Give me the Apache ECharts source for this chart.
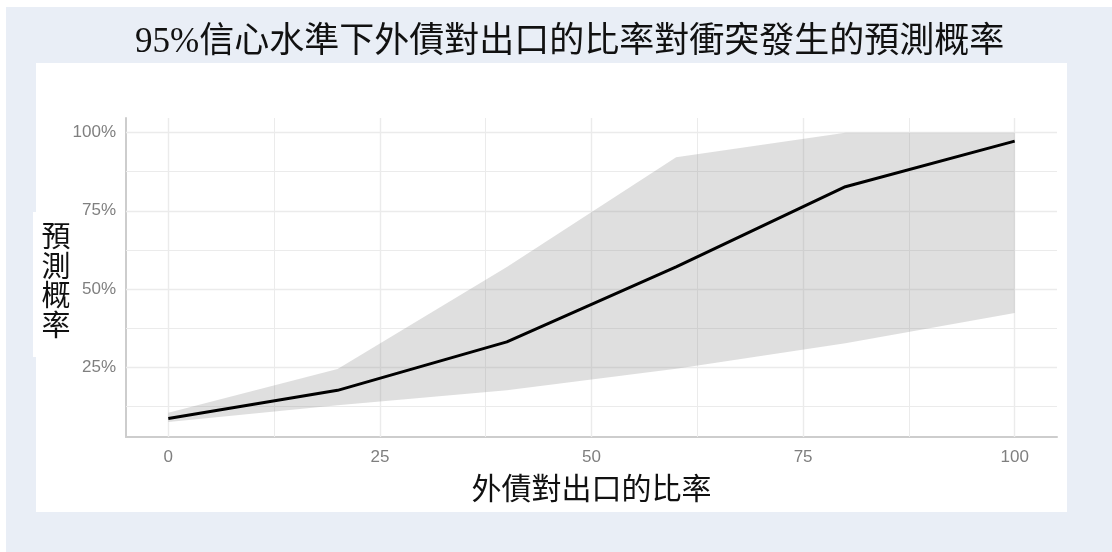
<!DOCTYPE html>
<html>
<head>
<meta charset="utf-8">
<script src="https://cdn.jsdelivr.net/npm/echarts@6/dist/echarts.min.js"></script>
<style>
  html, body { margin: 0; padding: 0; background: #ffffff; }
  #chart { width: 1112px; height: 552px; }
</style>
</head>
<body>
<div id="chart"></div>
<script>
// Ratio of external debt to exports (%)
const debtRatio = [0, 20, 40, 60, 80, 100];
// Predicted probability of conflict (%)
const predicted = [8.5, 17.5, 33, 57, 82.7, 97.3];
// 95% confidence band (%)
const lowerBound = [7.4, 12.7, 17.5, 24.4, 32.6, 42.3];
const upperBound = [10.3, 24.3, 57, 92.1, 100, 100];

// Axis tick labels and grid positions
const xTicks = [0, 25, 50, 75, 100];
const yTicks = [25, 50, 75, 100];
const xGrid = [0, 12.5, 25, 37.5, 50, 62.5, 75, 87.5, 100];
const yGrid = [12.5, 25, 37.5, 50, 62.5, 75, 87.5, 100];

const titleText = '95%信心水準下外債對出口的比率對衝突發生的預測概率';
const xName = '外債對出口的比率';
const yName = '預測概率';

const chart = echarts.init(document.getElementById('chart'), null, { renderer: 'canvas' });

const tickFont = '"Liberation Sans Narrow", "Liberation Sans", Arial, sans-serif';
const cjkFont = '"Liberation Serif", "Noto Sans CJK TC", serif';

const gridLineData = []
  .concat(xGrid.map(v => ({ xAxis: v, lineStyle: { width: Number.isInteger(v / 25) ? 1.4 : 1 } })))
  .concat(yGrid.map(v => ({ yAxis: v, lineStyle: { width: Number.isInteger(v / 25) ? 1.4 : 1 } })));

const option = {
  backgroundColor: '#ffffff',
  animation: false,
  title: {
    text: titleText,
    left: 130,
    top: 20,
    textStyle: {
      fontFamily: cjkFont,
      fontSize: 35,
      fontWeight: 'normal',
      color: '#111111'
    }
  },
  graphic: [
    { type: 'rect', z: -20, silent: true, shape: { x: 6, y: 7, width: 1106, height: 545 }, style: { fill: '#e9eef6' } },
    { type: 'rect', z: -10, silent: true, shape: { x: 36, y: 63, width: 1031, height: 449 }, style: { fill: '#ffffff' } },
    { type: 'rect', z: -10, silent: true, shape: { x: 33, y: 212, width: 40, height: 145 }, style: { fill: '#ffffff' } },
    {
      type: 'text', z: 10, silent: true,
      x: 56, y: 284,
      style: {
        text: yName.split('').join('\n'),
        fontFamily: cjkFont,
        fontSize: 29,
        lineHeight: 29.5,
        fill: '#111111',
        align: 'center',
        verticalAlign: 'middle'
      }
    }
  ],
  grid: { left: 126, right: 55, top: 118, bottom: 115 },
  xAxis: {
    type: 'value',
    min: -5,
    max: 105,
    name: xName,
    nameLocation: 'middle',
    nameGap: 39,
    nameTextStyle: { fontFamily: cjkFont, fontSize: 30, color: '#111111' },
    axisLine: { show: true, onZero: false, lineStyle: { color: '#cdcdcd', width: 2 } },
    axisTick: { show: false },
    splitLine: { show: false },
    axisLabel: {
      customValues: xTicks,
      margin: 12,
      color: '#7f7f7f',
      fontSize: 17,
      fontFamily: tickFont
    }
  },
  yAxis: {
    type: 'value',
    min: 2.56,
    max: 104.7,
    axisLine: { show: true, onZero: false, lineStyle: { color: '#cdcdcd', width: 2 } },
    axisTick: { show: false },
    splitLine: { show: false },
    axisLabel: {
      customValues: yTicks,
      margin: 10,
      color: '#7f7f7f',
      fontSize: 17,
      fontFamily: tickFont,
      formatter: v => v + '%'
    }
  },
  series: [
    {
      // panel grid lines
      type: 'line',
      data: [],
      silent: true,
      z: 1,
      markLine: {
        silent: true,
        z: 1,
        symbol: ['none', 'none'],
        label: { show: false },
        lineStyle: { color: '#ebebeb', type: 'solid' },
        emphasis: { disabled: true },
        data: gridLineData
      }
    },
    {
      // 95% confidence ribbon
      type: 'custom',
      z: 2,
      silent: true,
      data: [0],
      renderItem: function (params, api) {
        const pts = [];
        for (let i = 0; i < debtRatio.length; i++) pts.push(api.coord([debtRatio[i], upperBound[i]]));
        for (let i = debtRatio.length - 1; i >= 0; i--) pts.push(api.coord([debtRatio[i], lowerBound[i]]));
        return {
          type: 'polygon',
          shape: { points: pts },
          style: { fill: 'rgba(140,140,140,0.28)' }
        };
      }
    },
    {
      type: 'line',
      z: 3,
      silent: true,
      symbol: 'none',
      data: debtRatio.map((x, i) => [x, predicted[i]]),
      lineStyle: { color: '#000000', width: 3 }
    }
  ]
};

chart.setOption(option);
</script>
</body>
</html>
